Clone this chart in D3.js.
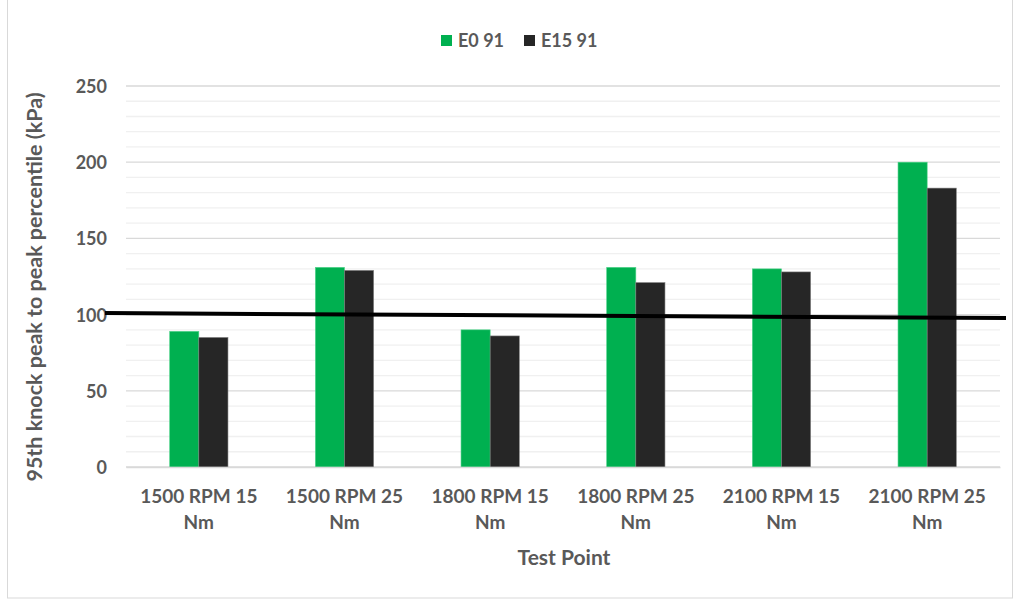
<!DOCTYPE html>
<html><head><meta charset="utf-8">
<script src="https://cdn.jsdelivr.net/npm/d3@7"></script>
<style>body{margin:0;background:#fff}svg{display:block}text{font-family:Lato,"Open Sans",sans-serif;font-weight:bold;fill:#595959}</style>
</head><body>
<script>
const categories = ["1500 RPM 15 Nm","1500 RPM 25 Nm","1800 RPM 15 Nm","1800 RPM 25 Nm","2100 RPM 15 Nm","2100 RPM 25 Nm"];
const seriesNames = ["E0 91","E15 91"];
const e0 = [89, 131, 90, 131, 130, 200];
const e15 = [85, 129, 86, 121, 128, 183];
const refLine = [101, 97.8];
const yTicks = [0,50,100,150,200,250];
const colors = ["#00B050","#262626"];

const W=1015,H=599;
const m={l:126,r:1000,t:86,b:467};
const svg=d3.select("body").append("svg").attr("width",W).attr("height",H);
svg.append("rect").attr("x",7.5).attr("y",-1).attr("width",1005).attr("height",599).attr("fill","#fff").attr("stroke","#D9D9D9");

const x=d3.scaleBand().domain(categories).range([m.l,m.r]).paddingInner(0.6).paddingOuter(0.3);
const xs=d3.scaleBand().domain(seriesNames).range([0,x.bandwidth()]);
const y=d3.scaleLinear().domain([0,250]).range([m.b,m.t]);

// grid
svg.append("g").selectAll("line").data(d3.range(0,251,10)).join("line")
 .attr("x1",m.l).attr("x2",m.r).attr("y1",d=>y(d)).attr("y2",d=>y(d))
 .attr("stroke",d=>d%50===0?"#D9D9D9":"#F0F0F0").attr("stroke-width",1.3);

// y axis
const ya=svg.append("g").attr("transform",`translate(${m.l},0)`).call(d3.axisLeft(y).tickValues(yTicks).tickSize(0).tickPadding(19));
ya.select(".domain").remove();
ya.selectAll("text").style("font-size","18px").attr("fill","#595959").style("font-family","Lato,sans-serif").style("font-weight","bold").attr("dy","0.36em");

// bars
const data=categories.map((c,i)=>({c,vals:[{s:seriesNames[0],v:e0[i]},{s:seriesNames[1],v:e15[i]}]}));
svg.append("g").selectAll("g").data(data).join("g").attr("transform",d=>`translate(${x(d.c)},0)`)
 .selectAll("rect").data(d=>d.vals).join("rect")
 .attr("x",d=>xs(d.s)).attr("width",xs.bandwidth()).attr("y",d=>y(d.v)).attr("height",d=>y(0)-y(d.v))
 .attr("fill",(d,i)=>colors[i]).attr("stroke",(d,i)=>i?"#7f7f7f":"#4fd38a").attr("stroke-width",0.6);

// x axis
const xa=svg.append("g").attr("transform",`translate(0,${m.b})`).call(d3.axisBottom(x).tickSize(0).tickFormat(""));
xa.select(".domain").attr("stroke","#D9D9D9").attr("stroke-width",1.3);
const lab=svg.append("g").selectAll("text").data(categories).join("text")
 .attr("x",d=>x(d)+x.bandwidth()/2).attr("y",503).attr("text-anchor","middle").style("font-size","19px");
lab.append("tspan").text(d=>d.replace(/ Nm$/,""));
lab.append("tspan").attr("x",d=>x(d)+x.bandwidth()/2).attr("dy",26).text("Nm");

// reference line
svg.append("line").attr("x1",105).attr("x2",1006).attr("y1",y(refLine[0])).attr("y2",y(refLine[1]))
 .attr("stroke","#000").attr("stroke-width",4);

// titles
svg.append("text").attr("x",564).attr("y",565).attr("text-anchor","middle").style("font-size","21px").text("Test Point");
svg.append("text").attr("transform",`translate(42,${287}) rotate(-90)`).attr("text-anchor","middle").style("font-size","21.5px").text("95th knock peak to peak percentile (kPa)");

// legend
const lg=svg.append("g").attr("transform","translate(441,35)");
const li=lg.selectAll("g").data(seriesNames).join("g").attr("transform",(d,i)=>`translate(${i*83},0)`);
li.append("rect").attr("width",11).attr("height",11).attr("fill",(d,i)=>colors[i]);
li.append("text").attr("x",17).attr("y",12).style("font-size","18px").text(d=>d);
</script>
</body></html>
